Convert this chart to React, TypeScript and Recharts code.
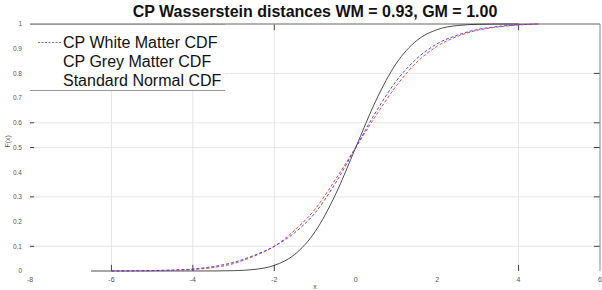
import {
  LineChart,
  Line,
  XAxis,
  YAxis,
  ReferenceLine,
} from "recharts"

const wmX = [-6, -5.5, -5, -4.5, -4, -3.5, -3, -2.5, -2, -1.5, -1, -0.5, 0, 0.5, 1, 1.5, 2, 2.5, 3, 3.5, 4, 4.5]
const wmCdf = [0, 0.001, 0.002, 0.004, 0.008, 0.018, 0.035, 0.063, 0.1, 0.155, 0.235, 0.355, 0.5, 0.645, 0.77, 0.86, 0.92, 0.955, 0.978, 0.99, 0.997, 1]
const gmCdf = [0, 0, 0.001, 0.003, 0.006, 0.014, 0.03, 0.06, 0.1, 0.165, 0.25, 0.37, 0.5, 0.63, 0.75, 0.845, 0.91, 0.95, 0.975, 0.988, 0.996, 1]

const normX = [-6.5, -6, -5.5, -5, -4.5, -4, -3.5, -3, -2.5, -2, -1.5, -1, -0.5, 0, 0.5, 1, 1.5, 2, 2.5, 3, 3.5, 4]
const normCdf = [0, 0, 0, 0, 0, 0.00003, 0.0002, 0.0013, 0.0062, 0.0228, 0.0668, 0.1587, 0.3085, 0.5, 0.6915, 0.8413, 0.9332, 0.9772, 0.9938, 0.9987, 0.9998, 1]

const xTicks = [-8, -6, -4, -2, 0, 2, 4, 6]
const yTicks = [0, 0.1, 0.2, 0.3, 0.4, 0.5, 0.6, 0.7, 0.8, 0.9, 1]
const xGrid = [-6, -4, -2, 4]
const yGrid = [0.1, 0.3, 0.5, 0.6, 0.8]

const wmData = wmX.map((x, i) => ({ x, y: wmCdf[i] }))
const gmData = wmX.map((x, i) => ({ x, y: gmCdf[i] }))
const normData = normX.map((x, i) => ({ x, y: normCdf[i] }))

const font = "'Liberation Sans', Arial, sans-serif"
const legendItems = ["CP White Matter CDF", "CP Grey Matter CDF", "Standard Normal CDF"]

export default function App() {
  return (
    <div style={{ position: "absolute", left: 0, top: 0, width: 602, height: 290, background: "#fff", fontFamily: font }}>
      <div
        style={{
          position: "absolute",
          top: 3,
          left: 30,
          width: 570,
          textAlign: "center",
          fontWeight: "bold",
          fontSize: 16,
          color: "#111",
        }}
      >
        CP Wasserstein distances WM = 0.93, GM = 1.00
      </div>
      <LineChart
        width={602}
        height={290}
        margin={{ top: 24, right: 2, bottom: 0, left: 0 }}
        style={{ fontFamily: font }}
      >
        <XAxis
          type="number"
          dataKey="x"
          domain={[-8, 6]}
          ticks={xTicks}
          allowDataOverflow
          axisLine={false}
          tickLine={false}
          height={19}
          tick={{ fontSize: 7, fill: "#555" }}
          tickMargin={0}
          label={{ value: "x", position: "insideBottom", offset: 1, fontSize: 7, fill: "#555" }}
        />
        <YAxis
          type="number"
          domain={[0, 1]}
          ticks={yTicks}
          axisLine={false}
          tickLine={false}
          width={30}
          tick={{ fontSize: 6.5, fill: "#555" }}
          tickMargin={2}
          label={{ value: "F(x)", angle: -90, position: "insideLeft", offset: 8, fontSize: 7, fill: "#555" }}
        />
        {xGrid.map((v) => (
          <ReferenceLine key={"vx" + v} x={v} stroke="#e6e6e6" />
        ))}
        {yGrid.map((v) => (
          <ReferenceLine key={"hy" + v} y={v} stroke="#e6e6e6" />
        ))}
        {/* tick marks */}
        {xGrid.map((v) => (
          <ReferenceLine key={"tb" + v} segment={[{ x: v, y: 0 }, { x: v, y: 0.025 }]} stroke="#444" />
        ))}
        {xGrid.map((v) => (
          <ReferenceLine key={"tt" + v} segment={[{ x: v, y: 1 }, { x: v, y: 0.975 }]} stroke="#444" />
        ))}
        {yGrid.map((v) => (
          <ReferenceLine key={"tl" + v} segment={[{ x: -8, y: v }, { x: -7.9, y: v }]} stroke="#444" />
        ))}
        {yGrid.map((v) => (
          <ReferenceLine key={"tr" + v} segment={[{ x: 6, y: v }, { x: 5.85, y: v }]} stroke="#444" />
        ))}
        <ReferenceLine y={1} stroke="#999" strokeWidth={1.5} />
        <ReferenceLine x={6} stroke="#888" />
        <Line
          data={normData}
          dataKey="y"
          type="monotone"
          stroke="#222"
          strokeWidth={0.8}
          dot={false}
          isAnimationActive={false}
        />
        <Line
          data={gmData}
          dataKey="y"
          type="monotone"
          stroke="#e0303a"
          strokeWidth={0.9}
          strokeDasharray="3 2"
          dot={false}
          isAnimationActive={false}
        />
        <Line
          data={wmData}
          dataKey="y"
          type="monotone"
          stroke="#3a3ae8"
          strokeWidth={0.9}
          strokeDasharray="3 2"
          dot={false}
          isAnimationActive={false}
        />
      </LineChart>
      {/* legend box */}
      <div
        style={{
          position: "absolute",
          left: 30,
          top: 24,
          width: 195,
          height: 65,
          borderTop: "1.5px solid #999",
          borderBottom: "1.5px solid #999",
          background: "#fff",
          fontSize: 16,
          color: "#111",
        }}
      >
        {legendItems.map((label, i) => (
          <div key={label} style={{ position: "absolute", left: 0, top: 8 + i * 19, height: 19, display: "flex", alignItems: "center" }}>
            <svg width={33} height={19}>
              {i === 0 && (
                <line x1={8} x2={31} y1={9.5} y2={9.5} stroke="#6a6af0" strokeWidth={1} strokeDasharray="2 1.5" />
              )}
            </svg>
            <span style={{ whiteSpace: "nowrap" }}>{label}</span>
          </div>
        ))}
      </div>
    </div>
  )
}
